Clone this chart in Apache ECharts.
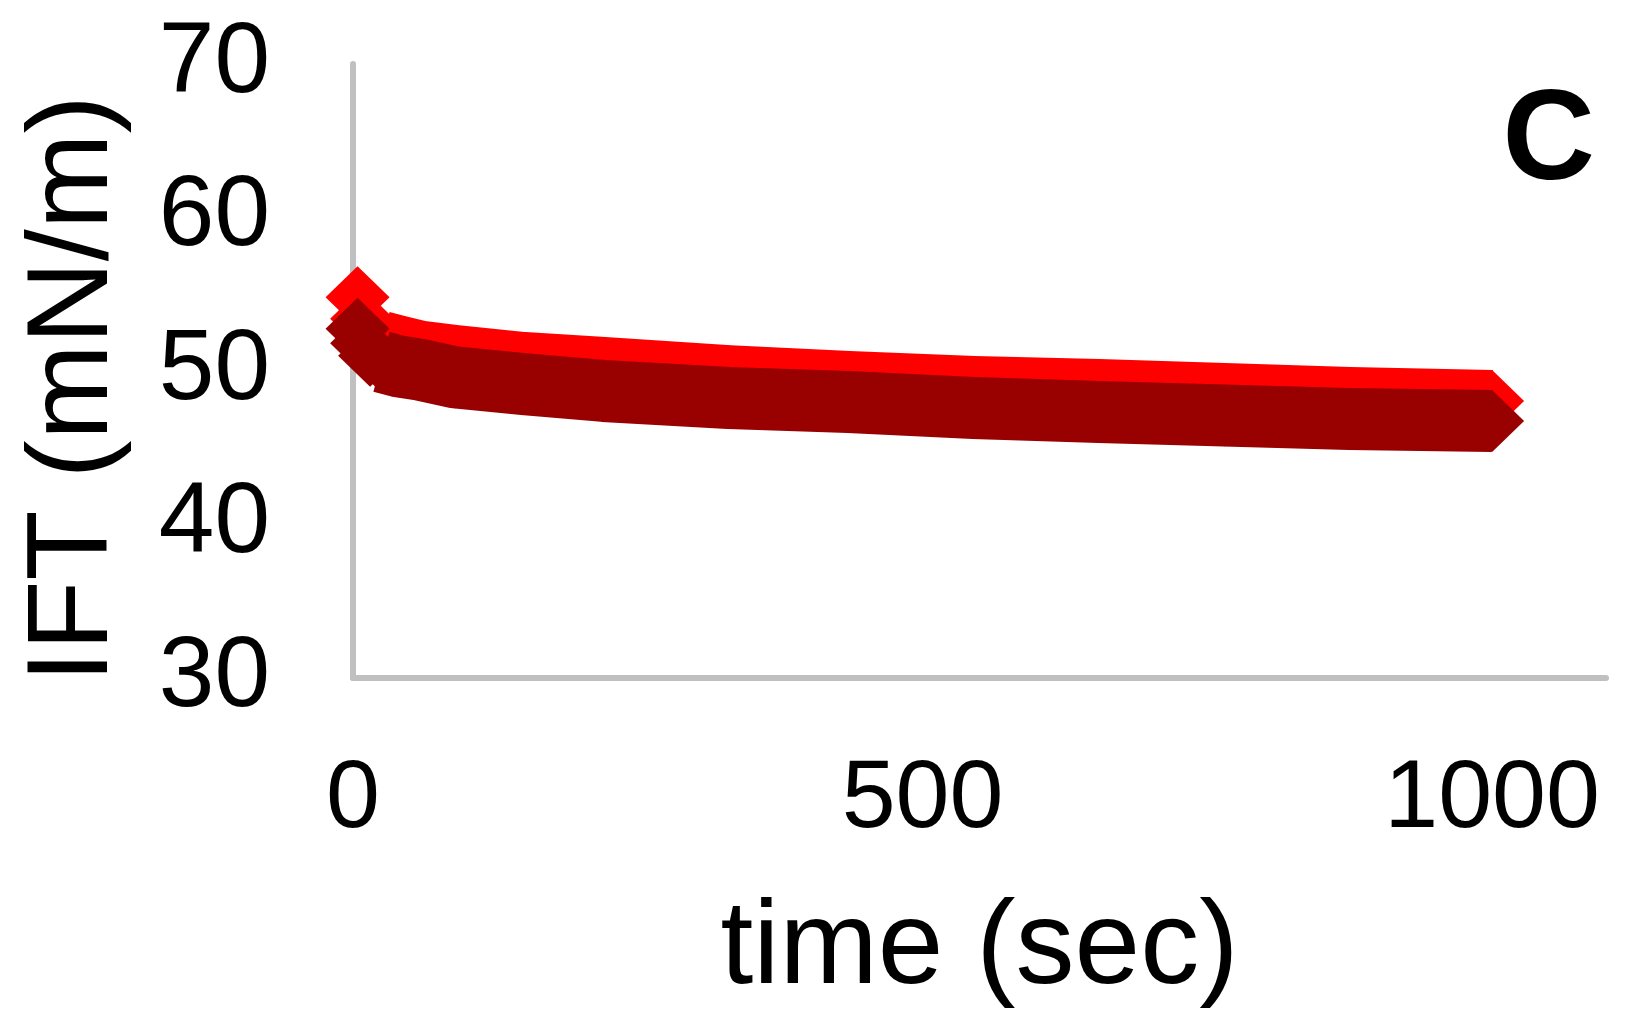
<!DOCTYPE html>
<html>
<head>
<meta charset="utf-8">
<title>IFT vs time</title>
<script src="https://cdn.jsdelivr.net/npm/echarts@6/dist/echarts.min.js"></script>
<style>
  html, body { margin: 0; padding: 0; background: #ffffff; }
  #chart { width: 1630px; height: 1020px; }
</style>
</head>
<body>
<div id="chart"></div>
<script>
// time points (sec)
var timeSec = [4, 8, 15, 25, 40, 60, 90, 150, 220, 330, 435, 545, 655, 765, 875, 1000];
// upper band (bright red), mN/m
var iftRed = [54.8, 53.4, 52.4, 51.9, 51.6, 51.25, 50.98, 50.52, 50.2, 49.67, 49.28, 48.96, 48.76, 48.5, 48.24, 48.05];
// lower band (dark red), mN/m
var iftDark = [52.75, 51.8, 51.0, 50.6, 50.3, 50.07, 49.58, 49.15, 48.7, 48.24, 47.98, 47.59, 47.33, 47.1, 46.87, 46.74];
var xTicks = [0, 500, 1000];
var yTicks = [30, 40, 50, 60, 70];

// the points are so dense they merge into a band: markers everywhere,
// plus a fat line through the flat part to close the gaps
var bandFrom = 3;

function pairs(xs, ys) {
    var out = [];
    for (var i = 0; i < xs.length; i++) {
        out.push([xs[i], ys[i]]);
    }
    return out;
}

function bandSeries(name, values, color, z) {
    var pts = pairs(timeSec, values);
    return [{
        name: name,
        type: 'scatter',
        z: z,
        clip: false,
        data: pts,
        symbol: 'diamond',
        symbolSize: [64, 62],
        itemStyle: {color: color, opacity: 1}
    }, {
        name: name,
        type: 'line',
        z: z,
        clip: false,
        data: pts.slice(bandFrom),
        showSymbol: false,
        lineStyle: {color: color, width: 62, cap: 'butt', join: 'round', opacity: 1}
    }];
}

var myChart = echarts.init(document.getElementById('chart'), null, {renderer: 'canvas'});
var font = 'Liberation Sans, Arial, sans-serif';

var option = {
    animation: false,
    backgroundColor: '#ffffff',
    title: {
        text: 'C',
        right: 35,
        top: 80,
        padding: 0,
        textStyle: {fontFamily: font, fontSize: 128, fontWeight: 'bold', color: '#000000'}
    },
    grid: {left: 353, top: 64, right: 24, bottom: 342},
    xAxis: {
        type: 'value',
        min: xTicks[0],
        max: 1100,
        interval: xTicks[1] - xTicks[0],
        name: 'time (sec)',
        nameLocation: 'middle',
        nameGap: 213,
        nameTextStyle: {fontFamily: font, fontSize: 118, color: '#000000'},
        axisLine: {show: true, onZero: false, lineStyle: {color: '#c0c0c0', width: 6}},
        axisTick: {show: false},
        splitLine: {show: false},
        axisLabel: {
            showMaxLabel: false,
            margin: 74,
            fontFamily: font,
            fontSize: 97,
            color: '#000000',
            formatter: function (v) { return xTicks.indexOf(v) >= 0 ? String(v) : ''; }
        }
    },
    yAxis: {
        type: 'value',
        min: yTicks[0],
        max: yTicks[yTicks.length - 1],
        interval: 10,
        name: 'IFT (mN/m)',
        nameLocation: 'middle',
        nameGap: 220,
        nameTextStyle: {fontFamily: font, fontSize: 115, color: '#000000', padding: [0, 36, 0, 0]},
        axisLine: {show: true, onZero: false, lineStyle: {color: '#c0c0c0', width: 6}},
        axisTick: {show: false},
        splitLine: {show: false},
        axisLabel: {margin: 83, fontFamily: font, fontSize: 100, color: '#000000'}
    },
    series: bandSeries('red', iftRed, '#ff0000', 2)
        .concat(bandSeries('dark red', iftDark, '#990000', 3))
};
myChart.setOption(option);
</script>
</body>
</html>
